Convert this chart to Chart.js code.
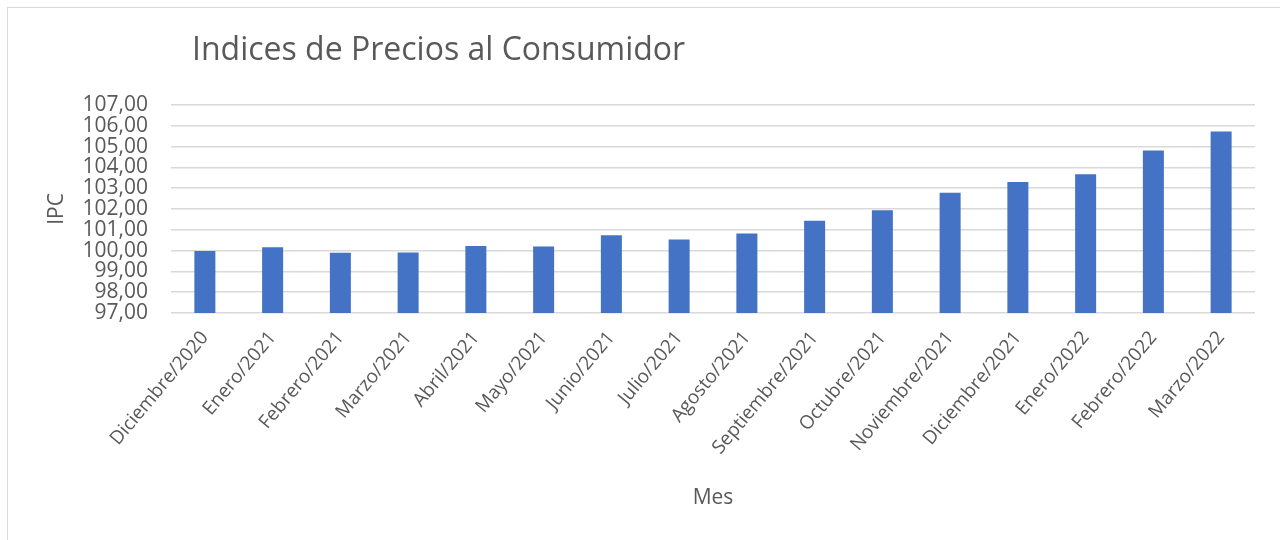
<!DOCTYPE html>
<html>
<head>
<meta charset="utf-8">
<script src="https://cdn.jsdelivr.net/npm/chart.js"></script>
<style>
  html, body { margin: 0; padding: 0; background: #fff; overflow: hidden; }
  #wrap { position: relative; width: 1280px; height: 540px; overflow: hidden; }
  #frame {
    position: absolute; left: 7px; top: 7px; width: 1290px; height: 550px;
    border: 1.5px solid #d9d9d9; box-sizing: border-box;
  }
  #title {
    position: absolute; left: 192px; top: 26px; margin: 0;
    font-family: "Open Sans", sans-serif; font-weight: 400; font-size: 32px;
    color: #595959; white-space: nowrap;
  }
  #chartBox { position: absolute; left: 0; top: 0; width: 1280px; height: 540px; }
</style>
</head>
<body>
<div id="wrap">
  <div id="frame"></div>
  <div id="chartBox"><canvas id="ipcChart"></canvas></div>
  <h1 id="title">Indices de Precios al Consumidor</h1>
</div>
<script>
// Datos
const meses = [
    'Diciembre/2020', 'Enero/2021', 'Febrero/2021', 'Marzo/2021', 'Abril/2021',
    'Mayo/2021', 'Junio/2021', 'Julio/2021', 'Agosto/2021', 'Septiembre/2021',
    'Octubre/2021', 'Noviembre/2021', 'Diciembre/2021', 'Enero/2022',
    'Febrero/2022', 'Marzo/2022'
];
const ipc = [
    99.98, 100.16, 99.90, 99.91, 100.22,
    100.20, 100.74, 100.53, 100.82, 101.44,
    101.94, 102.78, 103.30, 103.67,
    104.81, 105.73
];
const yMin = 97;
const yMax = 107;

const textColor = '#595959';
const gridColor = '#d9d9d9';

const ctx = document.getElementById('ipcChart').getContext('2d');

new Chart(ctx, {
    type: 'bar',
    data: {
        labels: meses,
        datasets: [{
            label: 'IPC',
            data: ipc,
            backgroundColor: '#4472C4',
            borderWidth: 0,
            barPercentage: 0.31,
            categoryPercentage: 1.0
        }]
    },
    options: {
        responsive: true,
        maintainAspectRatio: false,
        animation: false,
        layout: {
            padding: { left: 40, right: 25, top: 105, bottom: 25 }
        },
        plugins: {
            legend: { display: false },
            title: { display: false },
            tooltip: { enabled: false }
        },
        scales: {
            x: {
                grid: { display: false },
                border: { display: false },
                ticks: {
                    color: textColor,
                    font: { family: 'Open Sans', size: 19 },
                    minRotation: 50,
                    maxRotation: 50,
                    autoSkip: false,
                    padding: 6
                },
                title: {
                    display: true,
                    text: 'Mes',
                    color: textColor,
                    font: { family: 'Open Sans', size: 21 },
                    padding: { top: 4, bottom: 4 }
                },
                afterFit(scale) { scale.height = 202; }
            },
            y: {
                min: yMin,
                max: yMax,
                grid: {
                    color: gridColor,
                    lineWidth: 1.5,
                    drawTicks: false
                },
                border: { display: false },
                ticks: {
                    stepSize: 1,
                    autoSkip: false,
                    color: textColor,
                    font: { family: 'Open Sans', size: 21 },
                    padding: 23,
                    callback: v => v.toFixed(2).replace('.', ',')
                },
                title: {
                    display: true,
                    text: 'IPC',
                    color: textColor,
                    font: { family: 'Open Sans', size: 21 },
                    padding: { top: 4, bottom: 4 }
                },
                afterFit(scale) { scale.width = 131; }
            }
        }
    }
});
</script>
</body>
</html>
